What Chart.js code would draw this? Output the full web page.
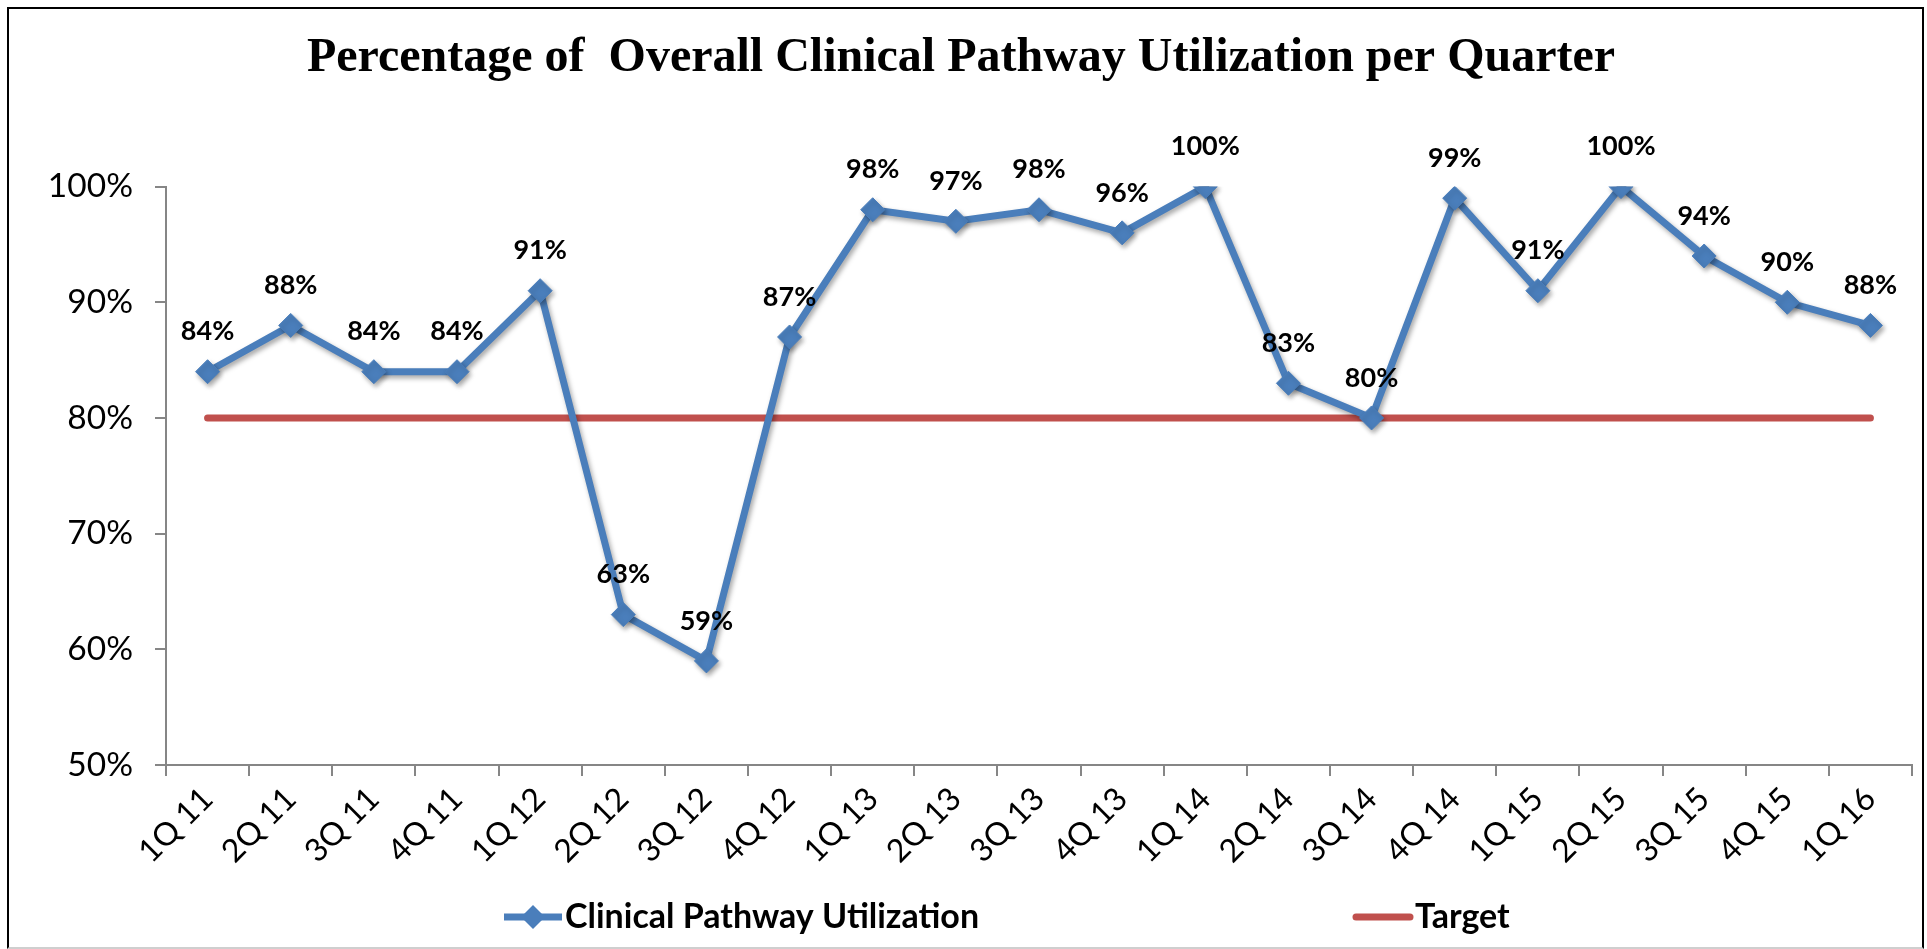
<!DOCTYPE html>
<html>
<head>
<meta charset="utf-8">
<script src="https://cdn.jsdelivr.net/npm/chart.js@4/dist/chart.umd.min.js"></script>
<style>
  html, body { margin: 0; padding: 0; background: #ffffff; }
  #wrap { position: absolute; left: 0; top: 0; width: 1927px; height: 949px; }
  #frame { position: absolute; left: 7px; top: 7px; width: 1913px; height: 938px;
           border-left: 2px solid #000; border-top: 2px solid #000; border-right: 2px solid #000;
           border-bottom: 2px solid #cfcfcf; pointer-events: none; }
</style>
</head>
<body>
<div id="wrap">
  <canvas id="c" width="1927" height="949"></canvas>
  <div id="frame"></div>
</div>
<script>
const titleText = 'Percentage of  Overall Clinical Pathway Utilization per Quarter';
const categories = ['1Q 11','2Q 11','3Q 11','4Q 11','1Q 12','2Q 12','3Q 12','4Q 12','1Q 13','2Q 13','3Q 13','4Q 13','1Q 14','2Q 14','3Q 14','4Q 14','1Q 15','2Q 15','3Q 15','4Q 15','1Q 16'];
const utilization = [84, 88, 84, 84, 91, 63, 59, 87, 98, 97, 98, 96, 100, 83, 80, 99, 91, 100, 94, 90, 88];
const target = [80, 80, 80, 80, 80, 80, 80, 80, 80, 80, 80, 80, 80, 80, 80, 80, 80, 80, 80, 80, 80];
const yTicks = [50, 60, 70, 80, 90, 100];
const seriesNames = ['Clinical Pathway Utilization', 'Target'];

const BLUE = '#4A7EBB';
const RED = '#C0504D';
const AXIS = '#868686';

const shadowPlugin = {
  id: 'shadow',
  beforeDatasetDraw(chart, args) {
    if (args.index === 0) {
      const ctx = chart.ctx;
      ctx.save();
      ctx.shadowColor = 'rgba(0,0,0,0.35)';
      ctx.shadowBlur = 5;
      ctx.shadowOffsetX = 2;
      ctx.shadowOffsetY = 3;
    }
  },
  afterDatasetDraw(chart, args) {
    if (args.index === 0) chart.ctx.restore();
  }
};

const labelPlugin = {
  id: 'valueLabels',
  afterDatasetsDraw(chart) {
    const ctx = chart.ctx;
    const meta = chart.getDatasetMeta(0);
    ctx.save();
    ctx.font = 'bold 27px Lato';
    ctx.fillStyle = '#000';
    ctx.textAlign = 'center';
    ctx.textBaseline = 'middle';
    meta.data.forEach((pt, i) => {
      ctx.fillText(utilization[i] + '%', pt.x, pt.y - 40);
    });
    ctx.restore();
  }
};

const legendPlugin = {
  id: 'customLegend',
  afterDraw(chart) {
    const ctx = chart.ctx;
    const y = 917;
    ctx.save();
    // series 1
    ctx.strokeStyle = BLUE; ctx.lineWidth = 7; ctx.lineCap = 'butt';
    ctx.beginPath(); ctx.moveTo(504, y); ctx.lineTo(562, y); ctx.stroke();
    ctx.fillStyle = BLUE;
    ctx.beginPath();
    ctx.moveTo(533, y - 12); ctx.lineTo(545, y); ctx.lineTo(533, y + 12); ctx.lineTo(521, y);
    ctx.closePath(); ctx.fill();
    // series 2
    ctx.strokeStyle = RED; ctx.lineCap = 'round';
    ctx.beginPath(); ctx.moveTo(1356, y); ctx.lineTo(1410, y); ctx.stroke();
    ctx.fillStyle = '#000';
    ctx.font = 'bold 34px Lato';
    ctx.textAlign = 'left'; ctx.textBaseline = 'middle';
    ctx.fillText(seriesNames[0], 565, y);
    ctx.fillText(seriesNames[1], 1415, y);
    ctx.restore();
  }
};

new Chart(document.getElementById('c'), {
  type: 'line',
  data: {
    labels: categories,
    datasets: [
      {
        label: seriesNames[0],
        data: utilization,
        borderColor: BLUE,
        backgroundColor: BLUE,
        borderWidth: 7,
        pointStyle: 'rectRot',
        pointRadius: 12,
        pointBorderWidth: 1,
        pointBackgroundColor: BLUE,
        pointBorderColor: BLUE,
        tension: 0,
        order: 0
      },
      {
        label: seriesNames[1],
        data: target,
        borderColor: RED,
        backgroundColor: RED,
        borderWidth: 7,
        borderCapStyle: 'round',
        pointRadius: 0,
        tension: 0,
        order: 1
      }
    ]
  },
  options: {
    responsive: false,
    animation: false,
    layout: { padding: { left: 10, right: 15, top: 0, bottom: 70 } },
    plugins: {
      legend: { display: false },
      tooltip: { enabled: false },
      title: {
        display: true,
        text: titleText,
        color: '#000',
        font: { family: '"Liberation Serif", "Times New Roman", serif', size: 48, weight: 'bold' },
        padding: { top: 30, bottom: 99 }
      }
    },
    scales: {
      x: {
        offset: true,
        grid: { display: true, drawOnChartArea: false, drawTicks: true, tickLength: 11, color: AXIS, offset: true, lineWidth: 2 },
        border: { display: true, color: AXIS, width: 2 },
        ticks: { color: '#000', font: { family: 'Lato', size: 32 }, maxRotation: 45, minRotation: 45, padding: 4, autoSkip: false },
        afterFit(scale) { scale.height = 949 - 70 - 765; }
      },
      y: {
        min: 50, max: 100,
        afterBuildTicks(scale) { scale.ticks = yTicks.map(v => ({ value: v })); },
        grid: { display: true, drawOnChartArea: false, drawTicks: true, tickLength: 11, color: AXIS, lineWidth: 2 },
        border: { display: true, color: AXIS, width: 2 },
        ticks: { color: '#000', font: { family: 'Lato', size: 33.5 }, padding: 22, callback: v => v + '%' },
        afterFit(scale) { scale.width = 166 - 10; }
      }
    }
  },
  plugins: [shadowPlugin, labelPlugin, legendPlugin]
});
</script>
</body>
</html>
